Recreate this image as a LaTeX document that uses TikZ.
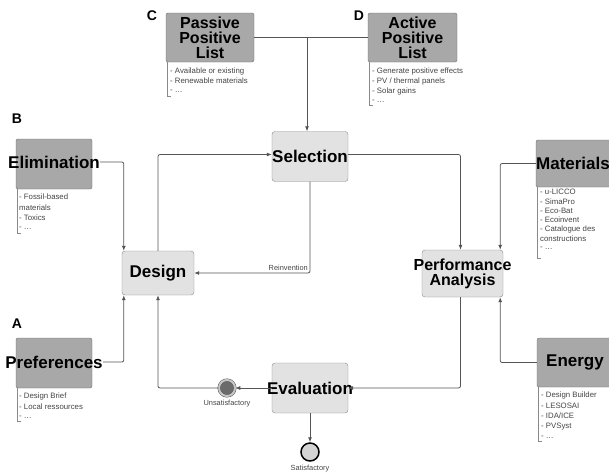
\documentclass[tikz,border=0pt]{standalone}
\usepackage{fontspec}
\setmainfont{Liberation Sans}
\usetikzlibrary{arrows.meta,positioning}
\definecolor{hdrfill}{HTML}{A8A8A8}
\definecolor{hdrline}{HTML}{6E6E6E}
\definecolor{procfill}{HTML}{E2E2E2}
\definecolor{procline}{HTML}{8A8A8A}
\definecolor{linkgray}{HTML}{555555}
\definecolor{itemtext}{HTML}{444444}

\begin{document}
\begin{tikzpicture}[x=1pt,y=-1pt,
  hdr/.style n args={2}{draw=hdrline,fill=hdrfill,rounded corners=2pt,inner sep=0pt,minimum width=#1pt,minimum height=#2pt},
  proc/.style n args={2}{draw=procline,fill=procfill,rounded corners=3pt,inner sep=0pt,minimum width=#1pt,minimum height=#2pt},
  ttl/.style={font=\bfseries\fontsize{17}{15}\selectfont,align=center,inner sep=0pt},
  ttlm/.style={font=\bfseries\fontsize{16}{15}\selectfont,align=center,inner sep=0pt},
  tag/.style={font=\bfseries\fontsize{14}{14}\selectfont,inner sep=0pt},
  item/.style={font=\fontsize{7.8}{8}\selectfont,anchor=west,inner sep=0pt,text=itemtext},
  note/.style={font=\fontsize{7.4}{8}\selectfont,inner sep=0pt,text=itemtext},
  brk/.style={draw=procline,line width=0.6pt},
  lnk/.style={draw=linkgray,line width=0.8pt,rounded corners=2pt,-{Latex[length=5pt,width=4pt]}}]
\useasboundingbox (0,0) rectangle (609,474);

% sources
\node[hdr={88}{49}] (pas) at (210,37.5) {};
\node[ttlm] (past) at (pas) {Passive\\Positive\\List};
\node[hdr={89}{49}] (act) at (412.5,37.5) {};
\node[ttlm] (actt) at (act) {Active\\Positive\\List};
\node[hdr={76}{50}] (elim) at (54,164) {};
\node[ttl] (elimt) at (54,162) {Elimination};
\node[hdr={76}{50}] (pref) at (54,363) {};
\node[ttl] (preft) at (54,362) {Preferences};
\node[hdr={78}{47}] (mat) at (575,163.5) {};
\node[ttl] (matt) at (573,163.5) {Materials};
\node[hdr={76}{49}] (ener) at (575,362.5) {};
\node[ttl] (enert) at (ener) {Energy};

\node[tag] (tc) at (152,16) {C};
\node[tag] (td) at (359,16) {D};
\node[tag] (tb) at (17,119) {B};
\node[tag] (ta) at (17,324) {A};

% lists
\draw[brk] ([xshift=1pt]pas.south west) -- ++(0,34) -- ++(4,0);
\foreach \t [count=\i] in {{- Available or existing},{- Renewable materials},{- \ldots}}
  \node[item] at (170,61+\i*10) {\t};
\draw[brk] ([xshift=1pt]act.south west) -- ++(0,43) -- ++(4,0);
\foreach \t [count=\i] in {{- Generate positive effects},{- PV / thermal panels},{- Solar gains},{- \ldots}}
  \node[item] at (372,61+\i*10) {\t};
\draw[brk] ([xshift=1pt]elim.south west) -- ++(0,44) -- ++(4,0);
\foreach \t [count=\i] in {{- Fossil-based},{materials},{- Toxics},{- \ldots}}
  \node[item] at (19,186.5+\i*10.5) {\t};
\draw[brk] ([xshift=1pt]pref.south west) -- ++(0,33) -- ++(4,0);
\foreach \t [count=\i] in {{- Design Brief},{- Local ressources},{- \ldots}}
  \node[item] at (19,386+\i*10.5) {\t};
\draw[brk] ([xshift=1pt]mat.south west) -- ++(0,71) -- ++(4,0);
\foreach \t [count=\i] in {{- u-LICCO},{- SimaPro},{- Eco-Bat},{- Ecoinvent},{- Catalogue des},{constructions},{- \ldots}}
  \node[item] at (540,183+\i*9.3) {\t};
\draw[brk] ([xshift=1pt]ener.south west) -- ++(0,54) -- ++(4,0);
\foreach \t [count=\i] in {{- Design Builder},{- LESOSAI},{- IDA/ICE},{- PVSyst},{- \ldots}}
  \node[item] at (541,385+\i*10.4) {\t};

% process
\node[proc={76}{50}] (sel) at (310,156.5) {};
\node[ttl] (selt) at (sel) {Selection};
\node[proc={72}{44}] (des) at (158,273) {};
\node[ttl] (dest) at (des) {Design};
\node[proc={81}{47}] (perf) at (462.5,273.5) {};
\node[ttlm] (perft) at (perf) {Performance\\Analysis};
\node[proc={76}{50}] (eval) at (310,388) {};
\node[ttl] (evalt) at (eval) {Evaluation};

\node[circle,fill=black!58,draw=black!65,double=black!22,double distance=2pt,line width=0.5pt,
  inner sep=0pt,minimum size=16pt] (unsat) at (227,388) {};
\node[note,below=4pt of unsat] (unsatl) {Unsatisfactory};
\node[circle,fill=black!17,draw=black,line width=1.5pt,inner sep=0pt,minimum size=18pt] (sat) at (310,452) {};
\node[note,below=3pt of sat] (satl) {Satisfactory};

% connectors
\coordinate (jn) at (307,37.5);
\draw[draw=linkgray,line width=0.8pt] (pas.east) -- (act.west);
\draw[lnk] (jn) -- (jn |- sel.north);
\draw[lnk] (elimt.east) -| ([xshift=2pt]des.north west);
\draw[lnk] (preft.east) -| ([xshift=2pt]des.south west);
\draw[lnk] (des.north) |- ([yshift=2pt]sel.west);
\coordinate (rc) at (sel.south |- des.east);
\draw[lnk] (sel.south) |- (des.east);
\node[note,anchor=south east] (reinv) at ([shift={(-2,-2)}]rc) {Reinvention};
\draw[lnk] ([yshift=2pt]sel.east) -| ([xshift=-2pt]perf.north);
\draw[lnk] (mat.west) -| ([xshift=-3pt]perf.north east);
\draw[lnk] (ener.west) -| ([xshift=-3pt]perf.south east);
\draw[lnk] ([xshift=-2pt]perf.south) |- (eval.east);
\draw[lnk] (eval.west) -- (unsat.east);
\draw[lnk] (unsat.west) -| (des.south);
\draw[lnk] (eval.south) -- (sat.north);
\end{tikzpicture}
\end{document}
